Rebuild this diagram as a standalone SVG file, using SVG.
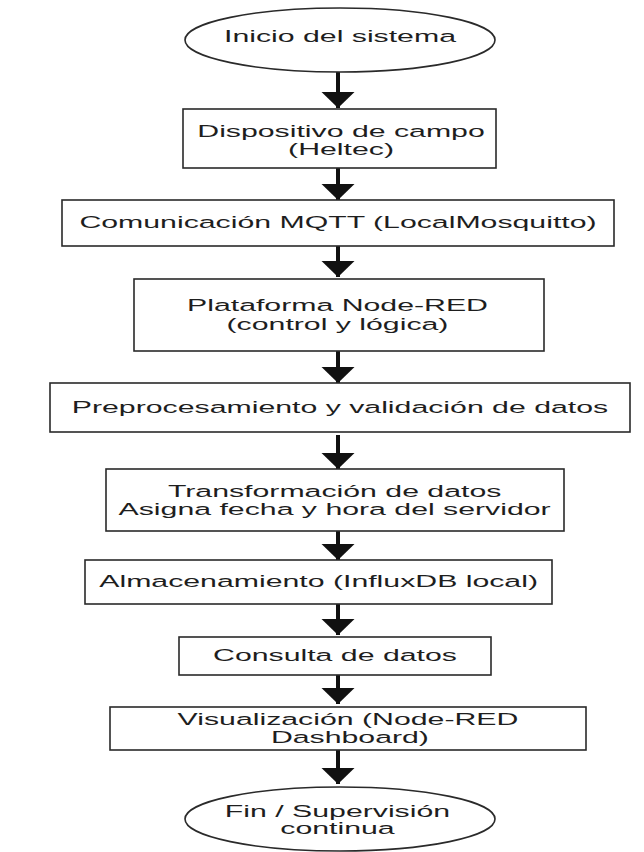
<svg xmlns="http://www.w3.org/2000/svg" width="644" height="852" viewBox="0 0 644 852">
<style>
.shape{fill:#fff;stroke:#2a2a2a;stroke-width:1.6}
.lbl{font-family:"Liberation Sans",Arial,sans-serif;font-size:17px;fill:#1e1e1e;text-anchor:middle}
.edge{stroke:#111;stroke-width:4;fill:none}
</style>
<defs>
<marker id="ah" markerUnits="userSpaceOnUse" viewBox="0 -17 16 34" markerWidth="16" markerHeight="34" refX="16" refY="0" orient="auto">
<path d="M0,-16.5 L16,0 L0,16.5 Z" fill="#111"/>
</marker>
</defs>
<rect width="644" height="852" fill="#fff"/>
<g id="connectors">
<line class="edge" x1="338" y1="72" x2="338" y2="108" marker-end="url(#ah)"/>
<line class="edge" x1="338" y1="168" x2="338" y2="200" marker-end="url(#ah)"/>
<line class="edge" x1="338" y1="246" x2="338" y2="277" marker-end="url(#ah)"/>
<line class="edge" x1="338" y1="351" x2="338" y2="383" marker-end="url(#ah)"/>
<line class="edge" x1="338" y1="435" x2="338" y2="469" marker-end="url(#ah)"/>
<line class="edge" x1="338" y1="531" x2="338" y2="560" marker-end="url(#ah)"/>
<line class="edge" x1="338" y1="604" x2="338" y2="635" marker-end="url(#ah)"/>
<line class="edge" x1="338" y1="675" x2="338" y2="704" marker-end="url(#ah)"/>
<line class="edge" x1="338" y1="750" x2="338" y2="784" marker-end="url(#ah)"/>
</g>
<g id="n1"><ellipse class="shape" cx="340" cy="40" rx="155" ry="32"/>
<text class="lbl" transform="scale(1.78 1)" x="191" y="42">Inicio del sistema</text></g>
<g id="n2"><rect class="shape" x="183" y="109" width="313" height="59"/>
<text class="lbl" transform="scale(1.78 1)" x="191.6" y="137">Dispositivo de campo</text>
<text class="lbl" transform="scale(1.78 1)" x="191.6" y="155">(Heltec)</text></g>
<g id="n3"><rect class="shape" x="62" y="200" width="552" height="46"/>
<text class="lbl" transform="scale(1.78 1)" x="189.9" y="228">Comunicación MQTT (LocalMosquitto)</text></g>
<g id="n4"><rect class="shape" x="134" y="279" width="410" height="72"/>
<text class="lbl" transform="scale(1.78 1)" x="189.6" y="311">Plataforma Node-RED</text>
<text class="lbl" transform="scale(1.78 1)" x="189.6" y="330">(control y lógica)</text></g>
<g id="n5"><rect class="shape" x="50" y="383" width="580" height="49"/>
<text class="lbl" transform="scale(1.78 1)" x="191" y="413">Preprocesamiento y validación de datos</text></g>
<g id="n6"><rect class="shape" x="106" y="469" width="458" height="62"/>
<text class="lbl" transform="scale(1.78 1)" x="188" y="497">Transformación de datos</text>
<text class="lbl" transform="scale(1.78 1)" x="188" y="515">Asigna fecha y hora del servidor</text></g>
<g id="n7"><rect class="shape" x="85" y="560" width="467" height="44"/>
<text class="lbl" transform="scale(1.78 1)" x="179" y="587">Almacenamiento (InfluxDB local)</text></g>
<g id="n8"><rect class="shape" x="179" y="637" width="312" height="38"/>
<text class="lbl" transform="scale(1.78 1)" x="188.2" y="661">Consulta de datos</text></g>
<g id="n9"><rect class="shape" x="110" y="707" width="476" height="43"/>
<text class="lbl" transform="scale(1.78 1)" x="195.5" y="725">Visualización (Node-RED</text>
<text class="lbl" transform="scale(1.78 1)" x="196.6" y="743">Dashboard)</text></g>
<g id="n10"><ellipse class="shape" cx="340" cy="819" rx="155" ry="32"/>
<text class="lbl" transform="scale(1.78 1)" x="189.6" y="817">Fin / Supervisión</text>
<text class="lbl" transform="scale(1.78 1)" x="189.6" y="834">continua</text></g>
</svg>
